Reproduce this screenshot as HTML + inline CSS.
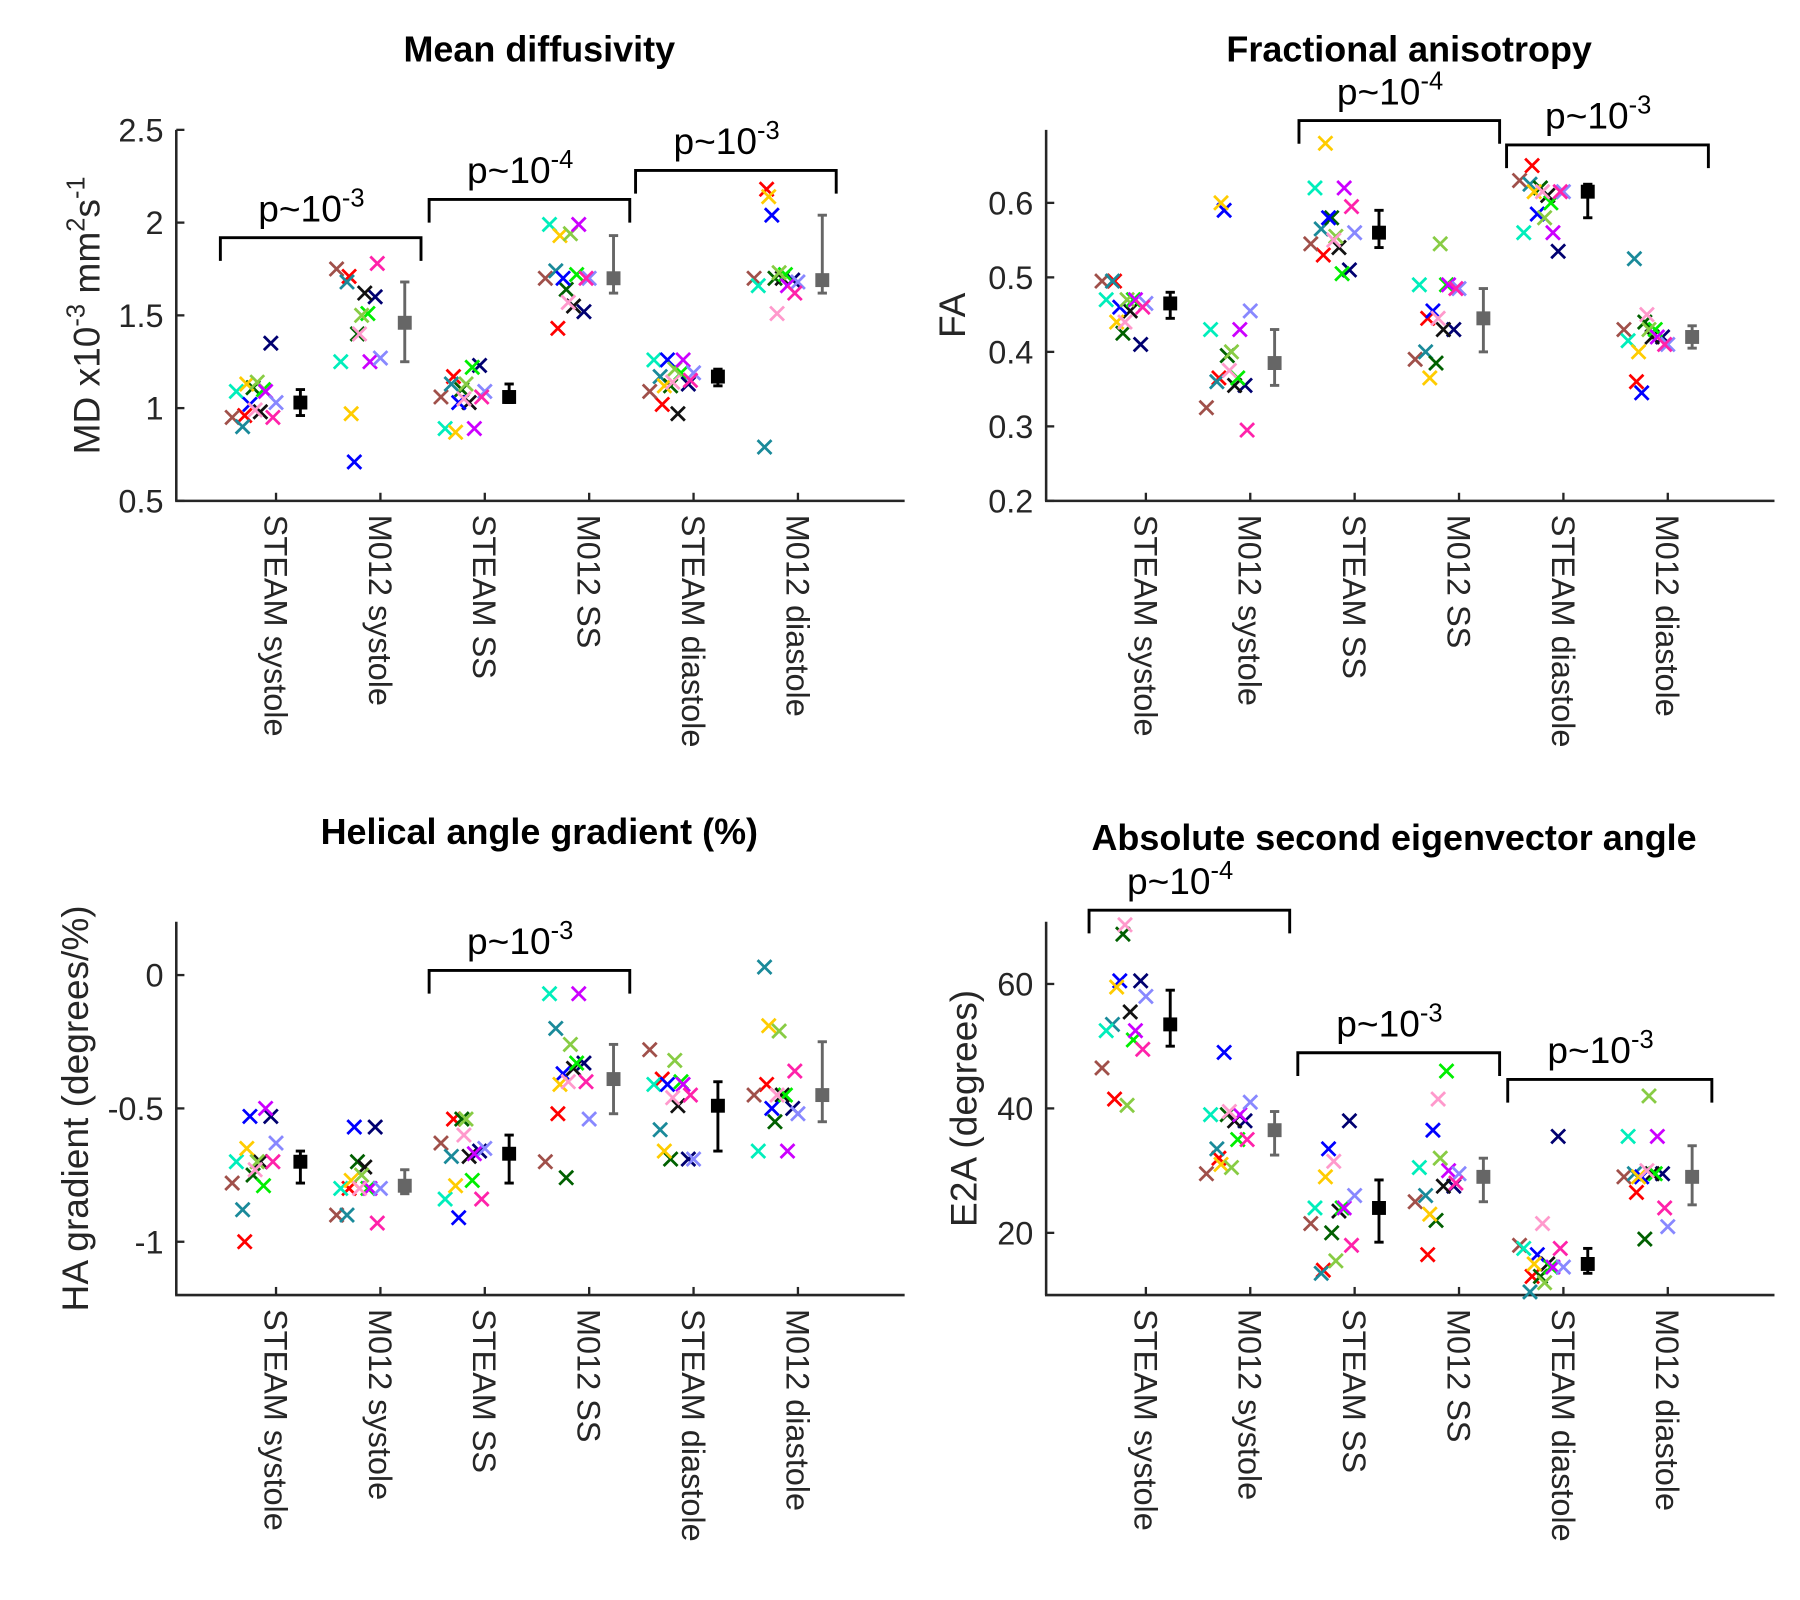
<!DOCTYPE html>
<html><head><meta charset="utf-8">
<style>
html,body{margin:0;padding:0;background:#fff;}
svg{display:block;font-family:"Liberation Sans",sans-serif;}
</style></head>
<body>
<svg id="fig" width="1800" height="1600" viewBox="0 0 1552 1380" preserveAspectRatio="none"></svg>
<script>
const categories = ["STEAM systole","M012 systole","STEAM SS","M012 SS","STEAM diastole","M012 diastole"];
const subjectColors = ["#ff0000","#a0504a","#1a8a9a","#006000","#000070","#111111","#00eebb","#0000ff","#ffcc00","#00ee00","#88cc44","#cc00ff","#ff99cc","#8888ff","#ff22aa"];
const jitter = [-0.3,-0.42,-0.32,-0.22,-0.05,-0.15,-0.38,-0.25,-0.28,-0.12,-0.18,-0.1,-0.2,0.0,-0.03];

const mdValues = [
 [0.96,0.95,0.90,1.11,1.35,0.98,1.09,1.02,1.13,1.10,1.14,1.09,0.99,1.03,0.95],
 [1.71,1.75,1.68,1.40,1.60,1.62,1.25,0.71,0.97,1.51,1.50,1.25,1.40,1.27,1.78],
 [1.17,1.06,1.13,1.10,1.23,1.03,0.89,1.03,0.87,1.22,1.13,0.89,1.05,1.09,1.06],
 [1.43,1.70,1.74,1.64,1.52,1.55,1.99,1.70,1.93,1.72,1.94,1.99,1.57,1.70,1.70],
 [1.02,1.09,1.17,1.12,1.13,0.97,1.26,1.26,1.12,1.19,1.21,1.26,1.14,1.19,1.15],
 [2.18,1.70,0.79,1.70,1.69,1.70,1.66,2.04,2.14,1.72,1.73,1.66,1.51,1.68,1.62]];
const mdMeans = [1.03,1.46,1.06,1.70,1.17,1.69];
const mdLo = [0.96,1.25,1.03,1.62,1.12,1.62];
const mdHi = [1.10,1.68,1.13,1.93,1.21,2.04];

const faValues = [
 [0.495,0.495,0.495,0.425,0.41,0.455,0.47,0.46,0.44,0.47,0.47,0.47,0.44,0.465,0.46],
 [0.365,0.325,0.36,0.395,0.355,0.355,0.43,0.59,0.60,0.365,0.40,0.43,0.375,0.455,0.295],
 [0.53,0.545,0.565,0.58,0.51,0.54,0.62,0.58,0.68,0.505,0.555,0.62,0.55,0.56,0.595],
 [0.445,0.39,0.40,0.385,0.43,0.43,0.49,0.455,0.365,0.49,0.545,0.49,0.445,0.485,0.485],
 [0.65,0.63,0.625,0.62,0.535,0.61,0.56,0.585,0.615,0.60,0.58,0.56,0.615,0.615,0.615],
 [0.36,0.43,0.525,0.44,0.42,0.42,0.415,0.345,0.40,0.43,0.43,0.42,0.45,0.41,0.41]];
const faMeans = [0.465,0.385,0.56,0.445,0.615,0.42];
const faLo = [0.445,0.355,0.54,0.40,0.58,0.405];
const faHi = [0.48,0.43,0.59,0.485,0.625,0.435];

const haValues = [
 [-1.0,-0.78,-0.88,-0.75,-0.53,-0.70,-0.70,-0.53,-0.65,-0.79,-0.70,-0.50,-0.73,-0.63,-0.70],
 [-0.80,-0.90,-0.90,-0.70,-0.57,-0.72,-0.80,-0.57,-0.77,-0.80,-0.75,-0.80,-0.80,-0.80,-0.93],
 [-0.54,-0.63,-0.68,-0.54,-0.66,-0.68,-0.84,-0.91,-0.79,-0.77,-0.54,-0.67,-0.60,-0.65,-0.84],
 [-0.52,-0.70,-0.20,-0.76,-0.33,-0.35,-0.07,-0.37,-0.41,-0.33,-0.26,-0.07,-0.40,-0.54,-0.40],
 [-0.39,-0.28,-0.58,-0.69,-0.69,-0.49,-0.41,-0.41,-0.66,-0.40,-0.32,-0.41,-0.46,-0.69,-0.45],
 [-0.41,-0.45,0.03,-0.55,-0.50,-0.45,-0.66,-0.50,-0.19,-0.45,-0.21,-0.66,-0.45,-0.52,-0.36]];
const haMeans = [-0.70,-0.79,-0.67,-0.39,-0.49,-0.45];
const haLo = [-0.78,-0.82,-0.78,-0.52,-0.66,-0.55];
const haHi = [-0.66,-0.73,-0.60,-0.26,-0.40,-0.25];

const e2aValues = [
 [41.5,46.5,53.5,68,60.5,55.5,52.5,60.5,59.5,51,40.5,52.5,69.5,58,49.5],
 [32,29.5,33.5,39,38,38,39,49,31,35,30.5,39,39.5,41,35],
 [14,21.5,13.5,20,38,23.5,24,33.5,29,24,15.5,24,31.5,26,18],
 [16.5,25,26,22,27.5,27.5,30.5,36.5,23,46,32,30,41.5,29.5,28],
 [13,18,10.5,13,35.5,15,17.5,16.5,15,14.5,12,14.5,21.5,14.5,17.5],
 [26.5,29,29.5,19,29.5,29.5,35.5,29,29,29.5,42,35.5,30,21,24]];
const e2aMeans = [53.5,36.5,24,29,15,29];
const e2aLo = [50,32.5,18.5,25,13.5,24.5];
const e2aHi = [59,39.5,28.5,32,17.5,34];

const NS="http://www.w3.org/2000/svg";
const svg=document.getElementById('fig');
function el(tag,attrs,parent,text){const e=document.createElementNS(NS,tag);for(const k in attrs)e.setAttribute(k,attrs[k]);if(text!==undefined)e.textContent=text;(parent||svg).appendChild(e);return e;}

function panel(cfg){
  const g=el('g',{});
  
  
  const X=c=>cfg.x0+86+c*90;
  const Y=v=>cfg.yb-(v-cfg.ymin)/(cfg.ymax-cfg.ymin)*(cfg.yb-cfg.yt);
  const ax='#262626';
  const t=el('text',{x:cfg.tx,y:cfg.ty,'text-anchor':'middle','font-size':31,'font-weight':'bold',fill:'#000'},g,cfg.title);
  
  
  const ya=el('line',{x1:cfg.x0,y1:cfg.yt,x2:cfg.x0,y2:cfg.yb,stroke:ax,'stroke-width':2.2},g);
  
  
  const xa=el('line',{x1:cfg.x0-1,y1:cfg.yb,x2:cfg.x0+628,y2:cfg.yb,stroke:ax,'stroke-width':2.2},g);
  
  
  cfg.ticks.forEach((v,i)=>{
    const y=Y(v);
    el('line',{x1:cfg.x0,y1:y,x2:cfg.x0+7,y2:y,stroke:ax,'stroke-width':2},g);
    const tl=el('text',{x:cfg.x0-11,y:y+10,'text-anchor':'end','font-size':28,fill:ax},g,cfg.tickLabels[i]);
    
    
  });
  categories.forEach((c,i)=>{
    const x=X(i);
    el('line',{x1:x,y1:cfg.yb,x2:x,y2:cfg.yb-7,stroke:ax,'stroke-width':2},g);
    const tl=el('text',{x:0,y:0,'font-size':28,fill:ax,transform:`translate(${x-10},${cfg.yb+12}) rotate(90)`},g,c);
    
    
  });
  const yl=el('text',{x:0,y:0,'text-anchor':'middle','font-size':32,fill:ax,transform:`translate(${cfg.ylx},${(cfg.yt+cfg.yb)/2}) rotate(-90)`},g);
  
  
  cfg.ylabel.forEach(p=>{el('tspan',p.sup?{'font-size':22,dy:p.dy}:{dy:p.dy||0},yl,p.t);});
  cfg.brackets.forEach(b=>{
    const bg=el('g',{},g);
    
    
    el('polyline',{points:`${b[0]},${b[2]+20} ${b[0]},${b[2]} ${b[1]},${b[2]} ${b[1]},${b[2]+20}`,fill:'none',stroke:'#000','stroke-width':2.5},bg);
    const lt=el('text',{x:(b[0]+b[1])/2-8,y:b[2]-14,'text-anchor':'middle','font-size':32,fill:'#000'},bg);
    el('tspan',{},lt,'p~10');
    el('tspan',{'font-size':22,dy:-13},lt,b[3]);
  });
  cfg.values.forEach((arr,ci)=>{
    arr.forEach((v,si)=>{
      const cx=X(ci)+jitter[si]*90, cy=Y(v), s=6;
      const m=el('path',{d:`M${cx-s},${cy-s}L${cx+s},${cy+s}M${cx-s},${cy+s}L${cx+s},${cy-s}`,stroke:subjectColors[si],'stroke-width':2.4,fill:'none'},g);
      
      
    });
    const col=ci%2===0?'#000':'#666';
    const mx=X(ci)+21;
    const eg=el('g',{},g);
    
    
    el('line',{x1:mx,y1:Y(cfg.lo[ci]),x2:mx,y2:Y(cfg.hi[ci]),stroke:col,'stroke-width':2.5},eg);
    el('line',{x1:mx-4,y1:Y(cfg.lo[ci]),x2:mx+4,y2:Y(cfg.lo[ci]),stroke:col,'stroke-width':2.5},eg);
    el('line',{x1:mx-4,y1:Y(cfg.hi[ci]),x2:mx+4,y2:Y(cfg.hi[ci]),stroke:col,'stroke-width':2.5},eg);
    el('rect',{x:mx-6,y:Y(cfg.means[ci])-6,width:12,height:12,fill:col},eg);
  });
}

panel({name:'md-panel',title:'Mean diffusivity',tx:465,ty:53,x0:152,yt:112,yb:432,ymin:0.5,ymax:2.5,
 ticks:[2.5,2,1.5,1,0.5],tickLabels:['2.5','2','1.5','1','0.5'],ylx:86,
 ylabel:[{t:'MD x10'},{t:'-3',sup:true,dy:-13},{t:' mm',dy:13},{t:'2',sup:true,dy:-13},{t:'s',dy:13},{t:'-1',sup:true,dy:-13}],
 brackets:[[190,363,205,'-3'],[370,543,172,'-4'],[548,721,147,'-3']],
 values:mdValues,means:mdMeans,lo:mdLo,hi:mdHi});
panel({name:'fa-panel',title:'Fractional anisotropy',tx:1215,ty:53,x0:902,yt:112,yb:432,ymin:0.2,ymax:0.698,
 ticks:[0.6,0.5,0.4,0.3,0.2],tickLabels:['0.6','0.5','0.4','0.3','0.2'],ylx:832,
 ylabel:[{t:'FA'}],
 brackets:[[1120,1293,104,'-4'],[1299,1473,125,'-3']],
 values:faValues,means:faMeans,lo:faLo,hi:faHi});
panel({name:'ha-panel',title:'Helical angle gradient (%)',tx:465,ty:728,x0:152,yt:795,yb:1117,ymin:-1.2,ymax:0.2,
 ticks:[0,-0.5,-1],tickLabels:['0','-0.5','-1'],ylx:76,
 ylabel:[{t:'HA gradient (degrees/%)'}],
 brackets:[[370,543,837,'-3']],
 values:haValues,means:haMeans,lo:haLo,hi:haHi});
panel({name:'e2a-panel',title:'Absolute second eigenvector angle',tx:1202,ty:733,x0:902,yt:795,yb:1117,ymin:10,ymax:70,
 ticks:[60,40,20],tickLabels:['60','40','20'],ylx:842,
 ylabel:[{t:'E2A (degrees)'}],
 brackets:[[939,1112,785,'-4'],[1119,1293,908,'-3'],[1300,1476,931,'-3']],
 values:e2aValues,means:e2aMeans,lo:e2aLo,hi:e2aHi});
</script>
</body></html>
